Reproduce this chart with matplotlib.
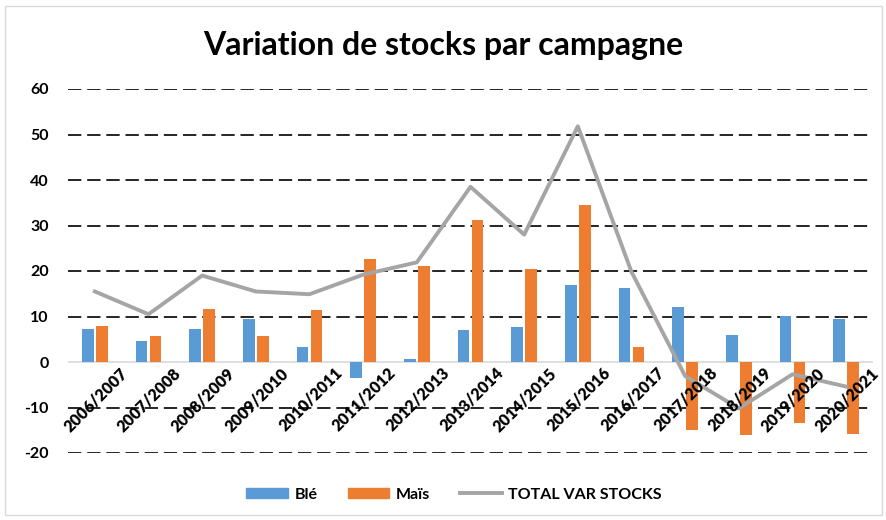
import matplotlib
matplotlib.use("Agg")
import matplotlib.pyplot as plt
from matplotlib.patches import Rectangle, Patch
from matplotlib.lines import Line2D
import numpy as np

campagnes = ["2006/2007", "2007/2008", "2008/2009", "2009/2010", "2010/2011",
             "2011/2012", "2012/2013", "2013/2014", "2014/2015", "2015/2016",
             "2016/2017", "2017/2018", "2018/2019", "2019/2020", "2020/2021"]
ble = [7.3, 4.7, 7.3, 9.5, 3.4, -3.6, 0.6, 7.0, 7.6, 16.9, 16.2, 12.0, 5.9, 10.1, 9.5]
mais = [7.9, 5.7, 11.7, 5.7, 11.4, 22.6, 21.1, 31.3, 20.4, 34.5, 3.4, -15.0, -16.1, -13.3, -15.8]
total = [15.5, 10.5, 19.0, 15.5, 14.9, 19.2, 21.9, 38.5, 28.0, 51.8, 19.8, -3.1, -10.2, -2.7, -5.4]
yticks = [-20, -10, 0, 10, 20, 30, 40, 50, 60]

plt.rcParams['font.family'] = ['Lato', 'DejaVu Sans']

fig = plt.figure(figsize=(8.87, 5.2), dpi=100)
fig.patches.append(Rectangle((0.006, 0.01), 0.988, 0.978, transform=fig.transFigure,
                             fill=False, edgecolor='#d9d9d9', linewidth=1))
ax = fig.add_axes([68 / 887, 1 - 453 / 520, (873 - 68) / 887, (453 - 89) / 520])

x = np.arange(len(campagnes))
w = 0.22
c_ble = '#5B9BD5'
c_mais = '#ED7D31'
c_tot = '#A5A5A5'

for yv in yticks:
    if yv != 0:
        ax.axhline(yv, color='black', linestyle=(0, (8, 3.5)), linewidth=1.2, zorder=0)
ax.axhline(0, color='#d9d9d9', linewidth=1.2, zorder=1)

ax.bar(x - 0.13, ble, width=w, color=c_ble, zorder=2)
ax.bar(x + 0.13, mais, width=w, color=c_mais, zorder=2)
ax.plot(x, total, color=c_tot, linewidth=2.8, zorder=3)

ax.set_xlim(-0.5, len(campagnes) - 0.5)
ax.set_ylim(-20, 60)
ax.set_yticks(yticks)
ax.set_yticklabels([str(v) for v in yticks], fontweight='bold', fontsize=11.5)
ax.tick_params(axis='y', length=0, pad=14)
ax.set_xticks([])
for s in ax.spines.values():
    s.set_visible(False)

for i, lab in enumerate(campagnes):
    ax.text(i + 0.45, -0.6, lab, rotation=45, ha='right', va='top',
            rotation_mode='anchor', fontsize=11.5, fontweight='heavy', zorder=4)

fig.text(0.5, 0.913, "Variation de stocks par campagne", ha='center', va='center',
         fontsize=23, fontweight='bold')

handles = [Patch(color=c_ble, label='Blé'), Patch(color=c_mais, label='Maïs'),
           Line2D([0], [0], color=c_tot, linewidth=2.8, label='TOTAL VAR STOCKS')]
fig.legend(handles=handles, loc='center', bbox_to_anchor=(0.512, 0.049), ncol=3,
           frameon=False, prop={'weight': 'bold', 'size': 11.5},
           handlelength=2.6, handleheight=0.6, columnspacing=1.9, handletextpad=0.4)

fig.savefig("out.png", dpi=100)
